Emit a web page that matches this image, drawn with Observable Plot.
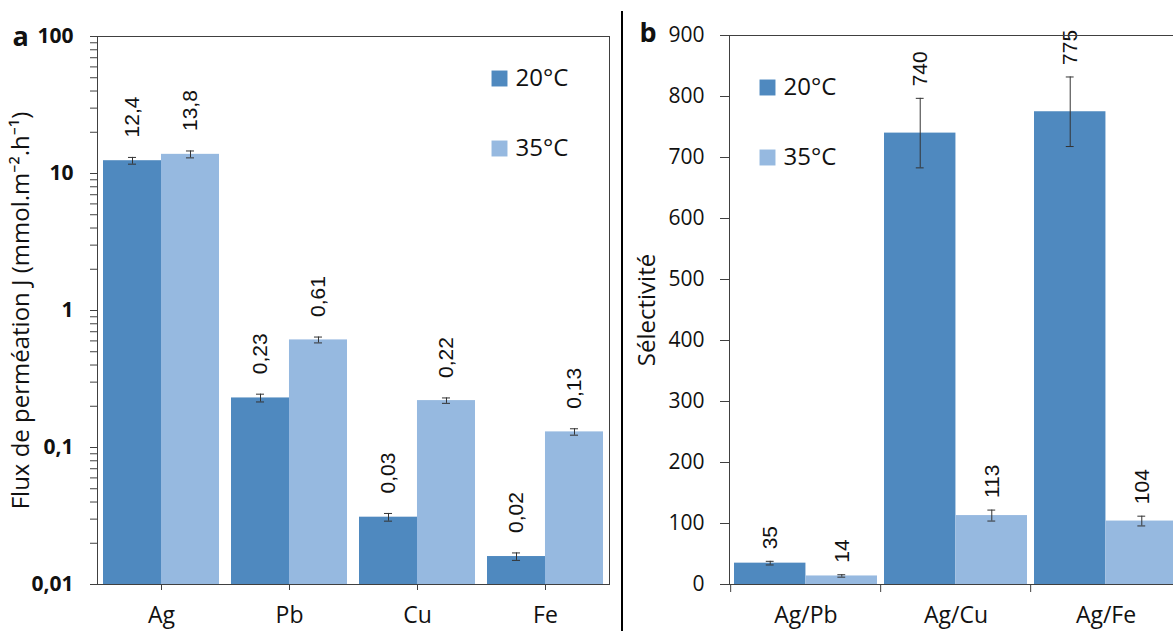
<!DOCTYPE html>
<html><head><meta charset="utf-8">
<script src="https://cdn.jsdelivr.net/npm/d3@7"></script>
<script src="https://cdn.jsdelivr.net/npm/@observablehq/plot@0.6"></script>
<style>
html,body{margin:0;padding:0;background:#fff;}
#wrap{position:relative;width:1173px;height:631px;overflow:hidden;background:#fff;}
#left{position:absolute;left:0;top:0;width:622px;}
#right{position:absolute;left:622px;top:0;width:580px;}
#wrap svg{max-width:none !important;}
#sep{position:absolute;left:621px;top:11px;width:2px;height:620px;background:#000;}
</style></head><body>
<div id="wrap"><div id="left"></div><div id="right"></div><div id="sep"></div></div>
<script>
// ---- data ----
const series = ["20°C", "35°C"];
const seriesColors = ["#4f89bf", "#96b9e0"];

const metals = ["Ag", "Pb", "Cu", "Fe"];
const flux20 = [12.4, 0.23, 0.031, 0.016];
const flux35 = [13.8, 0.61, 0.22, 0.13];
const fluxErr20 = [0.7, 0.015, 0.002, 0.001];
const fluxErr35 = [0.8, 0.03, 0.01, 0.007];
const fluxMajorTicks = [0.01, 0.1, 1, 10, 100];

const ratios = ["Ag/Pb", "Ag/Cu", "Ag/Fe"];
const sel20 = [35, 740, 775];
const sel35 = [14, 113, 104];
const selErr20 = [3, 57, 57];
const selErr35 = [2, 9, 8];
const selTicks = [0, 100, 200, 300, 400, 500, 600, 700, 800, 900];

const fluxLabel = "Flux de perméation J (mmol.m⁻².h⁻¹)";
const selLabel = "Sélectivité";

// ---- helpers ----
function rowsOf(cats, v20, v35, e20, e35) {
  const out = [];
  cats.forEach((c, i) => {
    out.push({cat: c, series: series[0], value: v20[i], err: e20[i]});
    out.push({cat: c, series: series[1], value: v35[i], err: e35[i]});
  });
  return out;
}
const fluxRows = rowsOf(metals, flux20, flux35, fluxErr20, fluxErr35);
const selRows = rowsOf(ratios, sel20, sel35, selErr20, selErr35);

const fmtFlux = v => (v >= 10 ? v.toFixed(1) : v.toFixed(2)).replace(".", ",");
const fmtSel = v => String(Math.round(v));

const TICK_FONT = "'Open Sans', 'Noto Sans', sans-serif";
const VAL_FONT = "'Liberation Sans', Arial, sans-serif";
const INK = "#111";
const AXIS = "#404040";

function bandWidth(plotW, n, pi, po) {
  const step = plotW / (n - pi + 2 * po);
  return {step, bw: step * (1 - pi)};
}

function seriesMarks(rows, half, base, gap, fmt) {
  const marks = [];
  series.forEach((s, i) => {
    const d = rows.filter(r => r.series === s);
    const off = (i === 0 ? -1 : 1) * half / 2;
    const capInset = half - 4;
    marks.push(Plot.barY(d, {x: "cat", y1: base, y2: "value", fill: "series",
      insetLeft: i === 0 ? 0 : half, insetRight: i === 0 ? half : 0}));
    marks.push(Plot.ruleX(d, {x: "cat", y1: r => r.value - r.err, y2: r => r.value + r.err,
      dx: off, stroke: "#333", strokeWidth: 1}));
    marks.push(Plot.tickY(d, {x: "cat", y: r => r.value + r.err, dx: off, inset: capInset, stroke: "#333"}));
    marks.push(Plot.tickY(d, {x: "cat", y: r => r.value - r.err, dx: off, inset: capInset, stroke: "#333"}));
    marks.push(Plot.text(d, {x: "cat", y: r => r.value + r.err, text: r => fmt(r.value),
      rotate: -90, textAnchor: "start", lineAnchor: "middle", dx: off, dy: -gap,
      fontSize: 21, fontFamily: VAL_FONT, fill: INK}));
  });
  return marks;
}

function legendMarks(dx, dy0, dy1) {
  const marks = [];
  series.forEach((s, i) => {
    const dy = i === 0 ? dy0 : dy1;
    marks.push(Plot.dot([s], {frameAnchor: "top-left", dx, dy, symbol: "square", r: 9, fill: d => d, stroke: null}));
    marks.push(Plot.text([s], {frameAnchor: "top-left", dx: dx + 16, dy, text: d => d, textAnchor: "start",
      lineAnchor: "middle", fontSize: 24, fontFamily: TICK_FONT, fill: INK}));
  });
  return marks;
}

// ---- left panel (a) ----
{
  const W = 622, H = 631, ML = 97, MR = 13, MT = 36, MB = 47;
  const pi = 0.094, po = 0.047;
  const {bw} = bandWidth(W - ML - MR, metals.length, pi, po);
  const half = bw / 2;
  const allTicks = [];
  fluxMajorTicks.slice(0, -1).forEach(m => d3.range(1, 10).forEach(k => allTicks.push(+(m * k).toPrecision(3))));
  allTicks.push(fluxMajorTicks[fluxMajorTicks.length - 1]);

  const chart = Plot.plot({
    width: W, height: H, marginLeft: ML, marginRight: MR, marginTop: MT, marginBottom: MB,
    style: {fontFamily: TICK_FONT, fontSize: "21px", color: INK, background: "#fff"},
    x: {domain: metals, paddingInner: pi, paddingOuter: po, label: null},
    y: {type: "log", domain: [fluxMajorTicks[0], fluxMajorTicks[fluxMajorTicks.length - 1]], label: null},
    color: {domain: series, range: seriesColors},
    marks: [
      ...seriesMarks(fluxRows, half, fluxMajorTicks[0], 20, fmtFlux),
      Plot.frame({stroke: AXIS}),
      Plot.axisY({ticks: allTicks, tickSize: 7, tickPadding: 17, stroke: AXIS,
        tickFormat: d => fluxMajorTicks.includes(d) ? String(d).replace(".", ",") : "",
        fontWeight: "bold", fontSize: 21, label: null}),
      Plot.axisX({tickSize: 6, tickPadding: 16, stroke: AXIS, fontSize: 23, label: null}),
      Plot.text([fluxLabel], {frameAnchor: "left", dx: -86, rotate: -90, text: d => d,
        textAnchor: "middle", lineAnchor: "top", fontSize: 24, fontFamily: TICK_FONT, fill: INK}),
      Plot.text(["a"], {frameAnchor: "top-left", dx: -85, dy: -10, text: d => d, textAnchor: "start",
        lineAnchor: "top", fontSize: 27, fontWeight: "bold", fontFamily: TICK_FONT, fill: INK}),
      ...legendMarks(402, 42, 112)
    ]
  });
  document.getElementById("left").append(chart);
}

// ---- right panel (b) ----
{
  const W = 580, H = 631, ML = 107, MR = 21, MT = 35, MB = 47;
  const pi = 0.05, po = 0.025;
  const {step, bw} = bandWidth(W - ML - MR, ratios.length, pi, po);
  const half = bw / 2;
  const chart = Plot.plot({
    width: W, height: H, marginLeft: ML, marginRight: MR, marginTop: MT, marginBottom: MB,
    style: {fontFamily: TICK_FONT, fontSize: "21px", color: INK, background: "#fff"},
    x: {domain: ratios, paddingInner: pi, paddingOuter: po, label: null},
    y: {domain: [selTicks[0], selTicks[selTicks.length - 1]], label: null},
    color: {domain: series, range: seriesColors},
    marks: [
      ...seriesMarks(selRows, half, selTicks[0], 12, fmtSel),
      Plot.frame({stroke: AXIS}),
      Plot.axisY({ticks: selTicks, tickSize: 9, tickPadding: 16, stroke: AXIS, fontSize: 21, label: null}),
      Plot.axisX({tickSize: 8, dx: -step / 2, stroke: AXIS, tickFormat: () => "", label: null}),
      Plot.axisX({tickSize: 0, tickPadding: 22, fontSize: 23, label: null}),
      Plot.text([selLabel], {frameAnchor: "left", dx: -92, rotate: -90, text: d => d,
        textAnchor: "middle", lineAnchor: "top", fontSize: 24, fontFamily: TICK_FONT, fill: INK}),
      Plot.text(["b"], {frameAnchor: "top-left", dx: -90, dy: -13, text: d => d, textAnchor: "start",
        lineAnchor: "top", fontSize: 27, fontWeight: "bold", fontFamily: TICK_FONT, fill: INK}),
      ...legendMarks(38, 52, 122)
    ]
  });
  document.getElementById("right").append(chart);
}
</script>
</body></html>
